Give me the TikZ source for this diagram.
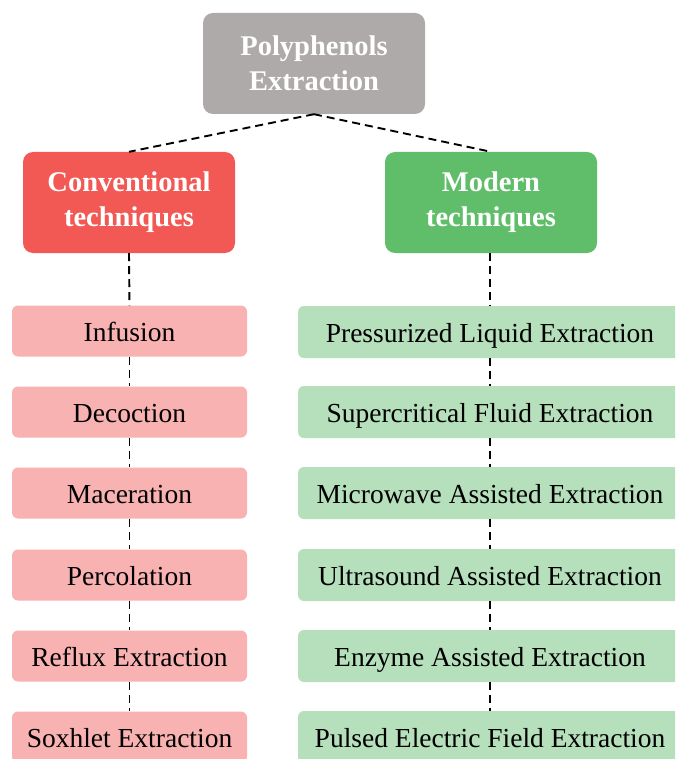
\documentclass[tikz,border=0pt]{standalone}
\usepackage{fontspec}
\setmainfont{Liberation Serif}
\usepackage{tikz}

\definecolor{topgray}{RGB}{174,170,169}
\definecolor{convred}{RGB}{242,89,84}
\definecolor{modgreen}{RGB}{96,190,106}
\definecolor{convpink}{RGB}{247,178,177}
\definecolor{modmint}{RGB}{182,223,188}

\begin{document}
\begin{tikzpicture}[x=1pt,y=-1pt,
  headbox/.style={rounded corners=10pt,inner sep=0pt,align=center,text=white,
    minimum height=101pt,font=\fontsize{28.5}{35}\selectfont\bfseries},
  convitem/.style={fill=convpink,rounded corners=6pt,inner sep=0pt,
    text height=20pt,text depth=0pt,
    minimum width=235pt,minimum height=51pt,font=\fontsize{27.5}{30}\selectfont},
  moditem/.style={fill=modmint,rounded corners=6pt,inner sep=0pt,
    text height=20pt,text depth=0pt,
    minimum width=384pt,minimum height=52pt,font=\fontsize{27.5}{30}\selectfont},
  link/.style={draw,line width=1.9pt,dash pattern=on 8pt off 5pt}]

\useasboundingbox (0,0) rectangle (675,759);
\clip (0,0) rectangle (675,759);

\node[headbox,fill=topgray,minimum width=222pt] (top) at (314,63.5)
  {\rule{0pt}{6pt}Polyphenols\\Extraction};
\node[headbox,fill=convred,minimum width=212pt] (conv) at (129,202.5)
  {\rule{0pt}{6pt}Conventional\\techniques};
\node[headbox,fill=modgreen,minimum width=212pt] (mod) at (491,202.5)
  {\rule{0pt}{6pt}Modern\\techniques};

% conventional
\node[convitem] (c1) at (129.5,331) {Infusion};
\node[convitem] (c2) at (129.5,412) {Decoction};
\node[convitem] (c3) at (129.5,493) {Maceration};
\node[convitem] (c4) at (129.5,575) {Percolation};
\node[convitem] (c5) at (129.5,656) {Reflux Extraction};
\node[convitem] (c6) at (129.5,737) {Soxhlet Extraction};

% modern
\node[moditem] (m1) at (490,332) {Pressurized Liquid Extraction};
\node[moditem] (m2) at (490,412) {Supercritical Fluid Extraction};
\node[moditem] (m3) at (490,493) {Microwave Assisted Extraction};
\node[moditem] (m4) at (490,575) {Ultrasound Assisted Extraction};
\node[moditem] (m5) at (490,656) {Enzyme Assisted Extraction};
\node[moditem] (m6) at (490,737) {Pulsed Electric Field Extraction};

% dashed connectors
\draw[link] (top.south) -- (conv.north);
\draw[link] (top.south) -- (mod.north);
\draw[link] (conv.south) -- (c1.north);
\draw[link] (c1.south) -- (c2.north);
\draw[link] (c2.south) -- (c3.north);
\draw[link] (c3.south) -- (c4.north);
\draw[link] (c4.south) -- (c5.north);
\draw[link] (c5.south) -- (c6.north);
\draw[link] (mod.south -| m1.north) -- (m1.north);
\draw[link] (m1.south) -- (m2.north);
\draw[link] (m2.south) -- (m3.north);
\draw[link] (m3.south) -- (m4.north);
\draw[link] (m4.south) -- (m5.north);
\draw[link] (m5.south) -- (m6.north);

\end{tikzpicture}
\end{document}
